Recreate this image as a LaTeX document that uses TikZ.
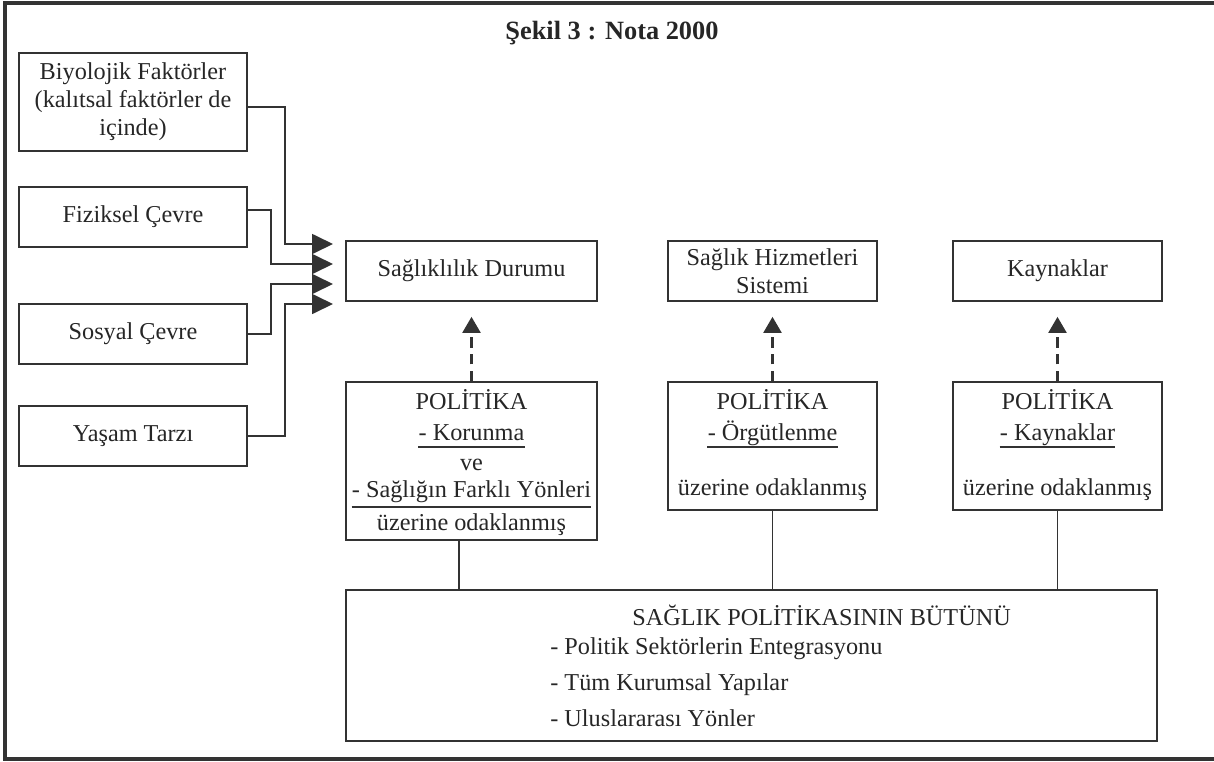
\documentclass[tikz,border=0pt]{standalone}
\usepackage{fontspec}
\setmainfont{Liberation Serif}
\usetikzlibrary{arrows.meta}
\tikzset{>=latex}
\colorlet{cizgi}{black!80}
\tikzset{
  every node/.style={text=black!85,font=\fontsize{13.8}{16}\selectfont},
  kutu/.style={draw=cizgi,line width=1pt,inner sep=0pt,align=center},
  ok/.style={draw=cizgi,line width=1pt,-{Triangle[length=0.42cm,width=0.4cm]}},
  kesik/.style={draw=cizgi,line width=1.3pt,dash pattern=on 6pt off 3.5pt,-{Triangle[length=0.32cm,width=0.36cm]}},
  cizili/.style={inner xsep=0pt,anchor=base}
}

\begin{document}
\begin{tikzpicture}[x=0.02cm,y=-0.02cm]
  \useasboundingbox (0,0) rectangle (1214,761);
  \draw[cizgi,line width=1.8pt] (1220,3) -- (5,3) -- (5,759) -- (1220,759);
  \node[font=\fontsize{15}{18}\selectfont\bfseries] (baslik) at (612,33) {Şekil 3 : Nota 2000};

  % sol kutular
  \node[kutu,minimum width=4.56cm,minimum height=1.96cm] (biyo) at (133,102)
    {Biyolojik Faktörler\\(kalıtsal faktörler de\\içinde)};
  \node[kutu,minimum width=4.56cm,minimum height=1.2cm] (fiz) at (133,217) {Fiziksel Çevre};
  \node[kutu,minimum width=4.56cm,minimum height=1.2cm] (sos) at (133,334) {Sosyal Çevre};
  \node[kutu,minimum width=4.56cm,minimum height=1.2cm] (yas) at (133,436) {Yaşam Tarzı};

  % ust kutular
  \node[kutu,minimum width=5.02cm,minimum height=1.2cm] (durum) at (471.5,271) {Sağlıklılık Durumu};
  \node[kutu,minimum width=4.18cm,minimum height=1.2cm] (hizmet) at (772.5,271) {Sağlık Hizmetleri\\Sistemi};
  \node[kutu,minimum width=4.18cm,minimum height=1.2cm] (kaynak) at (1057.5,271) {Kaynaklar};

  % politika kutulari
  \node[kutu,minimum width=5.02cm,minimum height=3.16cm] (pol1) at (471.5,461) {};
  \node[kutu,minimum width=4.18cm,minimum height=2.56cm] (pol2) at (772.5,446) {};
  \node[kutu,minimum width=4.18cm,minimum height=2.56cm] (pol3) at (1057.5,446) {};

  \node (p1a) at (471.5,400) {POLİTİKA};
  \node[cizili] (p1b) at (471.5,440) {- Korunma};
  \node (p1c) at (471.5,465) {ve};
  \node[cizili] (p1d) at (471.5,497) {- Sağlığın Farklı Yönleri};
  \node (p1e) at (471.5,525) {üzerine odaklanmış};
  \draw[cizgi,line width=1pt] ([yshift=-4pt]p1b.base west) -- ([yshift=-4pt]p1b.base east);
  \draw[cizgi,line width=1pt] ([yshift=-5.7pt]p1d.base west) -- ([yshift=-5.7pt]p1d.base east);

  \node (p2a) at (772.5,400) {POLİTİKA};
  \node[cizili] (p2b) at (772.5,440) {- Örgütlenme};
  \node (p2c) at (772.5,490) {üzerine odaklanmış};
  \draw[cizgi,line width=1pt] ([yshift=-4pt]p2b.base west) -- ([yshift=-4pt]p2b.base east);

  \node (p3a) at (1057.5,400) {POLİTİKA};
  \node[cizili] (p3b) at (1057.5,440) {- Kaynaklar};
  \node (p3c) at (1057.5,490) {üzerine odaklanmış};
  \draw[cizgi,line width=1pt] ([yshift=-4pt]p3b.base west) -- ([yshift=-4pt]p3b.base east);

  % alt kutu
  \node[kutu,minimum width=16.22cm,minimum height=3.02cm] (butun) at (751.5,665.5) {};
  \node[anchor=west,inner sep=0pt] (b0) at (632,615) {SAĞLIK POLİTİKASININ BÜTÜNÜ};
  \node[anchor=west,inner sep=0pt] (b1) at (550,649) {- Politik Sektörlerin Entegrasyonu};
  \node[anchor=west,inner sep=0pt] (b2) at (550,685) {- Tüm Kurumsal Yapılar};
  \node[anchor=west,inner sep=0pt] (b3) at (550,718) {- Uluslararası Yönler};

  % oklar
  \coordinate (u1) at (333,244);
  \coordinate (u2) at (333,264);
  \coordinate (u3) at (333,284);
  \coordinate (u4) at (333,304);
  \draw[ok] ([yshift=-0.1cm]biyo.east) -| (285,244) -- (u1);
  \draw[ok] ([yshift=0.14cm]fiz.east) -| (271,264) -- (u2);
  \draw[ok] (sos.east) -| (271,284) -- (u3);
  \draw[ok] (yas.east) -| (285,304) -- (u4);

  \draw[kesik] (pol1.north) -- ([yshift=-0.3cm]durum.south);
  \draw[kesik] (pol2.north) -- ([yshift=-0.3cm]hizmet.south);
  \draw[kesik] (pol3.north) -- ([yshift=-0.3cm]kaynak.south);

  \draw[cizgi,line width=1pt] ([xshift=-0.25cm]pol1.south) -- ([xshift=-0.25cm]pol1.south |- butun.north);
  \draw[cizgi,line width=1pt] (pol2.south) -- (pol2.south |- butun.north);
  \draw[cizgi,line width=1pt] (pol3.south) -- (pol3.south |- butun.north);
\end{tikzpicture}
\end{document}
